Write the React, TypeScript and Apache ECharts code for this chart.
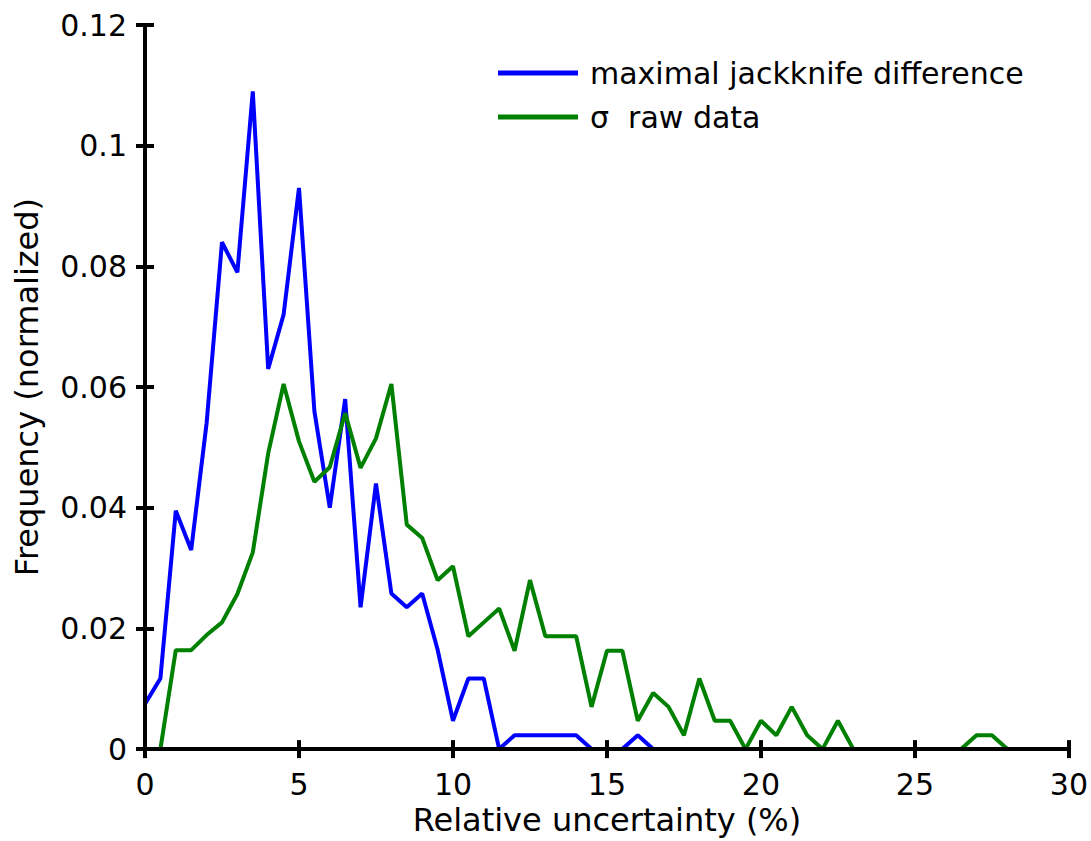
import React, { useEffect, useRef } from "react";
import * as echarts from "echarts";

const xBins = [
  0, 0.5, 1, 1.5, 2, 2.5, 3, 3.5, 4, 4.5, 5, 5.5, 6, 6.5, 7, 7.5, 8, 8.5, 9, 9.5,
  10, 10.5, 11, 11.5, 12, 12.5, 13, 13.5, 14, 14.5, 15, 15.5, 16, 16.5, 17, 17.5,
  18, 18.5, 19, 19.5, 20, 20.5, 21, 21.5, 22, 22.5, 23, 23.5, 24, 24.5, 25, 25.5,
  26, 26.5, 27, 27.5, 28, 28.5, 29, 29.5, 30,
];

const jackknife = [
  0.0075, 0.0117, 0.0395, 0.033, 0.054, 0.084, 0.079, 0.109, 0.063, 0.072,
  0.093, 0.056, 0.04, 0.058, 0.0235, 0.044, 0.0258, 0.0235, 0.0258, 0.0165,
  0.0047, 0.0117, 0.0117, 0, 0.0023, 0.0023, 0.0023, 0.0023, 0.0023, 0,
  0, 0, 0.0023, 0, 0, 0, 0, 0, 0, 0,
  0, 0, 0, 0, 0, 0, 0, 0, 0, 0,
  0, 0, 0, 0, 0, 0, 0, 0, 0, 0, 0,
];

const sigmaRaw = [
  0, 0, 0.0164, 0.0164, 0.0189, 0.021, 0.0257, 0.0326, 0.049, 0.0605,
  0.051, 0.0443, 0.0467, 0.0557, 0.0466, 0.0515, 0.0605, 0.0372, 0.035, 0.028,
  0.0303, 0.0187, 0.021, 0.0233, 0.0163, 0.028, 0.0187, 0.0187, 0.0187, 0.007,
  0.0163, 0.0163, 0.0047, 0.0093, 0.007, 0.0023, 0.0117, 0.0047, 0.0047, 0,
  0.0047, 0.0023, 0.007, 0.0023, 0, 0.0047, 0, 0, 0, 0,
  0, 0, 0, 0, 0.0023, 0.0023, 0, 0, 0, 0, 0,
];

const seriesNames = ["maximal jackknife difference", "σ  raw data"];
const seriesColors = ["#0000ff", "#008000"];
const xTitle = "Relative uncertainty (%)";
const yTitle = "Frequency (normalized)";

const FONT = "DejaVu Sans";

export default function App() {
  const ref = useRef<HTMLDivElement>(null);
  useEffect(() => {
    if (!ref.current) return;
    const chart = echarts.init(ref.current, undefined, { renderer: "svg" });
    const axisLine = { show: true, lineStyle: { color: "#000", width: 4 } };
    const axisTick = { show: true, inside: true, length: 9, lineStyle: { color: "#000", width: 4 } };
    const toPairs = (ys: number[]) => xBins.map((x, i) => [x, ys[i]]);
    chart.setOption({
      animation: false,
      backgroundColor: "#fff",
      grid: { left: 145, top: 25, right: 22, bottom: 84, containLabel: false },
      legend: {
        orient: "vertical",
        left: 493,
        top: 53,
        icon: "rect",
        itemWidth: 80,
        itemHeight: 5,
        itemGap: 14,
        textStyle: { fontFamily: FONT, fontSize: 30, color: "#000", lineHeight: 30, padding: [0, 0, 0, 7] },
        data: seriesNames,
      },
      xAxis: [
        {
          type: "value",
          min: 0,
          max: 30,
          interval: 5,
          position: "bottom",
          z: 5,
          axisLine,
          axisTick,
          splitLine: { show: false },
          axisLabel: { fontFamily: FONT, fontSize: 30, color: "#000", margin: 20 },
          name: xTitle,
          nameLocation: "middle",
          nameGap: 48,
          nameTextStyle: { fontFamily: FONT, fontSize: 32, color: "#000" },
        },
        {
          type: "value",
          min: 0,
          max: 30,
          interval: 5,
          position: "top",
          z: 5,
          axisLine,
          axisTick,
          splitLine: { show: false },
          axisLabel: { show: false },
        },
      ],
      yAxis: [
        {
          type: "value",
          min: 0,
          max: 0.12,
          interval: 0.02,
          position: "left",
          z: 5,
          axisLine,
          axisTick,
          splitLine: { show: false },
          axisLabel: {
            fontFamily: FONT,
            fontSize: 30,
            color: "#000",
            margin: 18,
            formatter: (v: number) => String(+v.toFixed(2)),
          },
          name: yTitle,
          nameLocation: "middle",
          nameGap: 102,
          nameTextStyle: { fontFamily: FONT, fontSize: 32, color: "#000" },
        },
        {
          type: "value",
          min: 0,
          max: 0.12,
          interval: 0.02,
          position: "right",
          z: 5,
          axisLine,
          axisTick,
          splitLine: { show: false },
          axisLabel: { show: false },
        },
      ],
      series: [
        {
          name: seriesNames[0],
          type: "line",
          data: toPairs(jackknife),
          showSymbol: false,
          symbol: "none",
          lineStyle: { color: seriesColors[0], width: 4 },
          itemStyle: { color: seriesColors[0] },
        },
        {
          name: seriesNames[1],
          type: "line",
          data: toPairs(sigmaRaw),
          showSymbol: false,
          symbol: "none",
          lineStyle: { color: seriesColors[1], width: 4 },
          itemStyle: { color: seriesColors[1] },
        },
      ],
    });
    return () => chart.dispose();
  }, []);
  return (
    <div
      ref={ref}
      style={{ position: "fixed", left: 0, top: 0, width: 1091, height: 841 }}
    />
  );
}
